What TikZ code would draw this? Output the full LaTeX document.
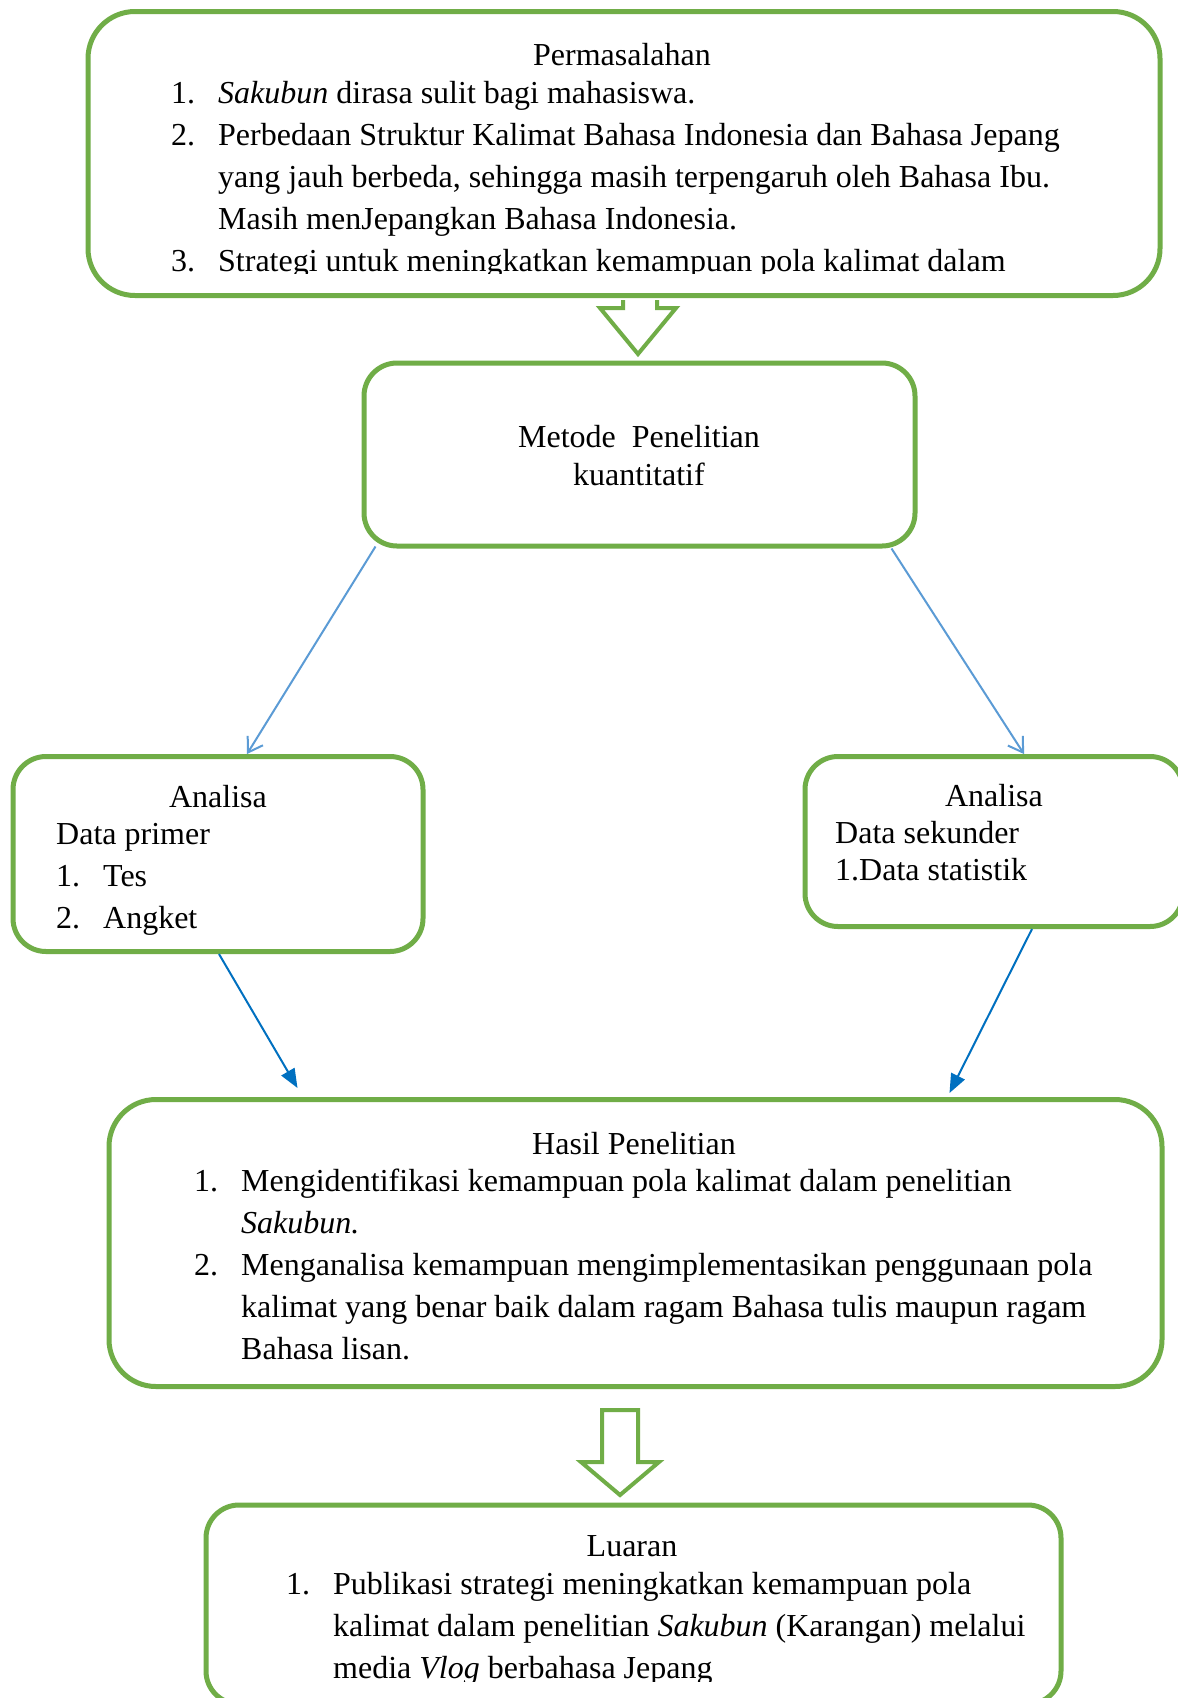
\documentclass[tikz,border=0pt]{standalone}
\usepackage{fontspec}
\setmainfont{Liberation Serif}
\usetikzlibrary{arrows.meta}

\definecolor{boxgreen}{HTML}{70AD47}
\definecolor{lightblue}{HTML}{5B9BD5}
\definecolor{darkblue}{HTML}{0070C0}
\newcommand{\numbox}[1]{\makebox[47pt][l]{#1}}
\newcommand{\hangin}{\hspace*{47pt}}

\begin{document}
\begin{tikzpicture}[x=1pt,y=-1pt,
  box/.style={draw=boxgreen,line width=5pt,rounded corners=#1,inner sep=0pt},
  box/.default=33pt,
  txt/.style={inner sep=0pt,font=\fontsize{32}{42}\selectfont,align=left},
  lnk/.style={draw=lightblue,line width=2pt,-{Straight Barb[length=14pt,width=18pt]}},
  lnkb/.style={draw=darkblue,line width=2pt,-{Triangle[length=19pt,width=15pt]}},
  bigarrow/.style={draw=boxgreen,line width=4pt,fill=white}]
\useasboundingbox[fill=white] (0,0) rectangle (1178,1698);

% boxes
\node[box=47pt,minimum width=1072pt,minimum height=284pt] (prob) at (624,153.5) {};
\node[box,minimum width=551pt,minimum height=183pt] (meth) at (639.5,454.5) {};
\node[box,minimum width=410pt,minimum height=195pt] (anl) at (218,854) {};
\node[box,minimum width=378pt,minimum height=170pt] (anr) at (994,841.5) {};
\node[box=47pt,minimum width=1053pt,minimum height=287pt] (hasil) at (635.5,1243) {};
\node[box,minimum width=855pt,minimum height=199pt] (out) at (633.5,1604.5) {};

% texts (base = last line)
\node[txt,anchor=base] (probtitle) at (622,65) {Permasalahan};
\begin{scope}
\clip (0,0) rectangle (1178,273);
\node[txt,anchor=base west] (problist) at (171,271) {\numbox{1.}\textit{Sakubun} dirasa sulit bagi mahasiswa.\\
  \numbox{2.}Perbedaan Struktur Kalimat Bahasa Indonesia dan Bahasa Jepang\\
  \hangin yang jauh berbeda, sehingga masih terpengaruh oleh Bahasa Ibu.\\
  \hangin Masih menJepangkan Bahasa Indonesia.\\
  \numbox{3.}Strategi untuk meningkatkan kemampuan pola kalimat dalam};
\end{scope}

\node[txt,anchor=base,align=center] (methtxt) at (639,485) {Metode\ \ Penelitian\\[-4pt] kuantitatif};

\node[txt,anchor=base] (anltitle) at (218,807) {Analisa};
\node[txt,anchor=base west] (anllist) at (56,928) {Data primer\\ \numbox{1.}Tes\\ \numbox{2.}Angket};

\node[txt,anchor=base] (anrtitle) at (994,806) {Analisa};
\node[txt,anchor=base west] (anrlist) at (835,880) {Data sekunder\\[-5pt] 1.Data statistik};

\node[txt,anchor=base] (hasiltitle) at (634,1154) {Hasil Penelitian};
\node[txt,anchor=base west] (hasillist) at (194,1359) {\numbox{1.}Mengidentifikasi kemampuan pola kalimat dalam penelitian\\
  \hangin\textit{Sakubun.}\\
  \numbox{2.}Menganalisa kemampuan mengimplementasikan penggunaan pola\\
  \hangin kalimat yang benar baik dalam ragam Bahasa tulis maupun ragam\\
  \hangin Bahasa lisan.};

\node[txt,anchor=base] (outtitle) at (632,1556) {Luaran};
\begin{scope}
\clip (0,0) rectangle (1178,1681);
\node[txt,anchor=base west] (outlist) at (286,1678) {\numbox{1.}Publikasi strategi meningkatkan kemampuan pola\\
  \hangin kalimat dalam penelitian \textit{Sakubun} (Karangan) melalui\\
  \hangin media \textit{Vlog} berbahasa Jepang};
\end{scope}

% block arrows
\draw[bigarrow] (prob.south) +(-1,2) -- +(-1,10) -- +(-24,10) -- +(14,56) -- +(52,10) -- +(33,10) -- +(33,2);
\draw[bigarrow] (hasil.south) +(-33.5,21) -- +(-33.5,73) -- +(-54.5,73) -- +(-15.5,106) -- +(23.5,73) -- +(2.5,73) -- +(2.5,21) -- cycle;

% connectors
\draw[lnk] ([xshift=14pt,yshift=2pt]meth.south west) -- ([xshift=29pt]anl.north);
\draw[lnk] ([xshift=-26pt]meth.south east) -- ([xshift=30pt]anr.north);
\draw[lnkb] ([xshift=1pt]anl.south) -- ([xshift=191pt,yshift=9pt]hasil.north west);
\draw[lnkb] ([xshift=38pt]anr.south) -- ([xshift=-215pt,yshift=4pt]hasil.north east);
\end{tikzpicture}
\end{document}
